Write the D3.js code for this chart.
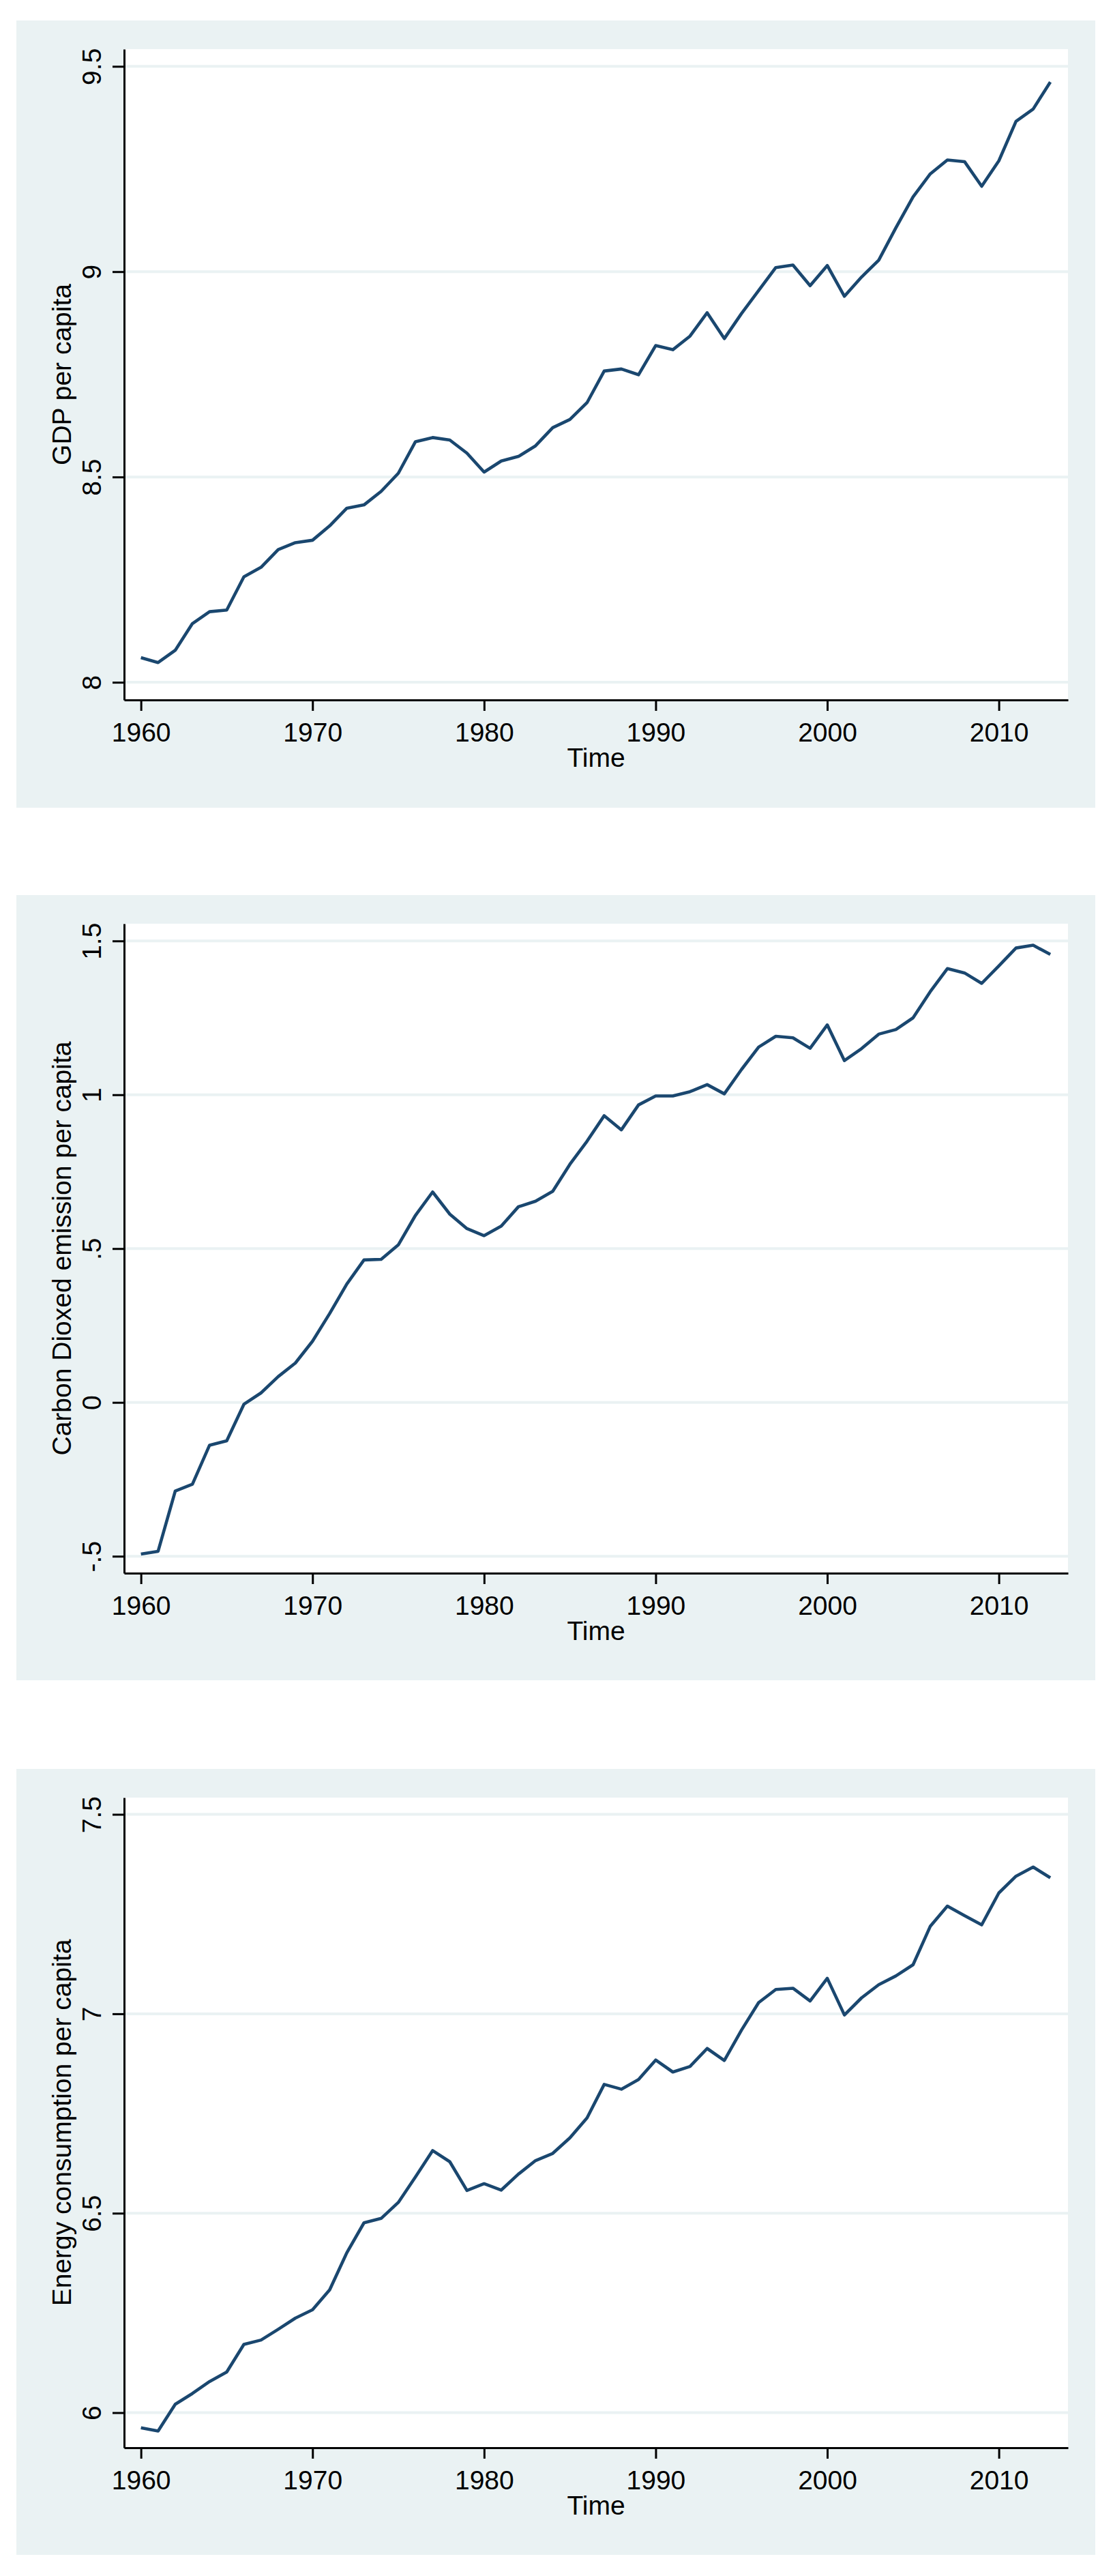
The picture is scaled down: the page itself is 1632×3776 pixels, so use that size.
<!DOCTYPE html>
<html>
<head>
<meta charset="utf-8">
<script src="https://cdn.jsdelivr.net/npm/d3@7"></script>
<style>
  html, body { margin: 0; padding: 0; background: #ffffff; }
  svg { display: block; }
  text { font-family: "Liberation Sans", Arial, Helvetica, sans-serif; fill: #000; }
</style>
</head>
<body>
<svg id="chart" width="1632" height="3776"></svg>
<script>
// ---------------- DATA ----------------
const years = [1960,1961,1962,1963,1964,1965,1966,1967,1968,1969,
               1970,1971,1972,1973,1974,1975,1976,1977,1978,1979,
               1980,1981,1982,1983,1984,1985,1986,1987,1988,1989,
               1990,1991,1992,1993,1994,1995,1996,1997,1998,1999,
               2000,2001,2002,2003,2004,2005,2006,2007,2008,2009,
               2010,2011,2012,2013];

const gdpPerCapita = [8.060,8.048,8.078,8.143,8.172,8.176,8.257,8.280,8.323,8.340,
                      8.346,8.381,8.424,8.432,8.465,8.509,8.586,8.596,8.590,8.558,
                      8.512,8.539,8.550,8.576,8.620,8.640,8.681,8.758,8.763,8.749,
                      8.820,8.810,8.843,8.900,8.837,8.898,8.954,9.010,9.016,8.966,
                      9.015,8.940,8.987,9.028,9.107,9.182,9.238,9.272,9.268,9.208,
                      9.270,9.366,9.396,9.462];

const co2PerCapita = [-0.493,-0.484,-0.288,-0.266,-0.139,-0.125,-0.006,0.031,0.084,0.128,
                      0.199,0.289,0.385,0.463,0.465,0.512,0.608,0.684,0.612,0.565,
                      0.542,0.573,0.636,0.654,0.686,0.774,0.849,0.932,0.886,0.967,
                      0.996,0.996,1.010,1.033,1.003,1.082,1.155,1.190,1.185,1.151,
                      1.227,1.111,1.150,1.197,1.212,1.250,1.335,1.410,1.396,1.362,
                      1.419,1.477,1.486,1.456];

const energyPerCapita = [5.962,5.954,6.021,6.048,6.078,6.102,6.171,6.182,6.209,6.237,
                         6.258,6.308,6.401,6.476,6.487,6.527,6.591,6.657,6.629,6.557,
                         6.574,6.558,6.598,6.632,6.650,6.689,6.739,6.823,6.811,6.835,
                         6.884,6.854,6.868,6.913,6.883,6.959,7.028,7.061,7.064,7.032,
                         7.089,6.997,7.040,7.073,7.095,7.123,7.219,7.270,7.246,7.223,
                         7.303,7.345,7.368,7.341];

const xTicks = [1960, 1970, 1980, 1990, 2000, 2010];
const xTickLabels = ["1960", "1970", "1980", "1990", "2000", "2010"];
const xTitle = "Time";

const gdpTicks = [8, 8.5, 9, 9.5];
const gdpTickLabels = ["8", "8.5", "9", "9.5"];
const co2Ticks = [-0.5, 0, 0.5, 1, 1.5];
const co2TickLabels = ["-.5", "0", ".5", "1", "1.5"];
const energyTicks = [6, 6.5, 7, 7.5];
const energyTickLabels = ["6", "6.5", "7", "7.5"];

const yTitles = ["GDP per capita", "Carbon Dioxed emission per capita", "Energy consumption per capita"];

// ---------------- LAYOUT ----------------
const panels = [
  { values: gdpPerCapita, ticks: gdpTicks, labels: gdpTickLabels, title: yTitles[0],
    bg: [24, 30, 1606, 1184], plotTop: 72, plotBottom: 1026, yDomain: [7.957, 9.542] },
  { values: co2PerCapita, ticks: co2Ticks, labels: co2TickLabels, title: yTitles[1],
    bg: [24, 1312, 1606, 2463], plotTop: 1354, plotBottom: 2306, yDomain: [-0.555, 1.556] },
  { values: energyPerCapita, ticks: energyTicks, labels: energyTickLabels, title: yTitles[2],
    bg: [24, 2593, 1606, 3745], plotTop: 2635, plotBottom: 3588, yDomain: [5.912, 7.542] }
];

const plotLeft = 182, plotRight = 1566;
const bgColor = "#eaf2f3";
const lineColor = "#1a476f";
const fontSize = 39;

const svg = d3.select("#chart");

const x = d3.scaleLinear().domain([1959.02, 2014.03]).range([plotLeft, plotRight]);

panels.forEach(p => {
  const g = svg.append("g");
  // outer background
  g.append("rect")
    .attr("x", p.bg[0]).attr("y", p.bg[1])
    .attr("width", p.bg[2] - p.bg[0]).attr("height", p.bg[3] - p.bg[1])
    .attr("fill", bgColor);
  // plot region
  g.append("rect")
    .attr("x", plotLeft).attr("y", p.plotTop)
    .attr("width", plotRight - plotLeft).attr("height", p.plotBottom - p.plotTop)
    .attr("fill", "#ffffff");

  const y = d3.scaleLinear().domain(p.yDomain).range([p.plotBottom, p.plotTop]);

  // grid lines
  g.append("g").selectAll("line")
    .data(p.ticks).join("line")
    .attr("x1", plotLeft).attr("x2", plotRight)
    .attr("y1", d => y(d)).attr("y2", d => y(d))
    .attr("stroke", bgColor).attr("stroke-width", 4);

  // data line
  const line = d3.line().x((d, i) => x(years[i])).y(d => y(d));
  g.append("path")
    .datum(p.values)
    .attr("d", line)
    .attr("fill", "none")
    .attr("stroke", lineColor)
    .attr("stroke-width", 4.6)
    .attr("stroke-linejoin", "round")
    .attr("stroke-linecap", "butt");

  // y axis
  const yAxis = d3.axisLeft(y)
    .tickValues(p.ticks)
    .tickFormat((d, i) => p.labels[i])
    .tickSize(17).tickSizeOuter(0);
  const ya = g.append("g").attr("transform", `translate(${plotLeft},0)`).call(yAxis);
  ya.select(".domain").attr("stroke", "#000").attr("stroke-width", 3);
  ya.selectAll(".tick line").attr("stroke", "#000").attr("stroke-width", 3);
  ya.selectAll(".tick text")
    .attr("x", null).attr("dy", null)
    .attr("transform", "translate(-34,0) rotate(-90)")
    .attr("text-anchor", "middle")
    .style("font-size", fontSize + "px")
    .style("font-family", '"Liberation Sans", Arial, sans-serif')
    .attr("fill", "#000");

  // x axis
  const xAxis = d3.axisBottom(x)
    .tickValues(xTicks)
    .tickFormat((d, i) => xTickLabels[i])
    .tickSize(16).tickSizeOuter(0);
  const xa = g.append("g").attr("transform", `translate(0,${p.plotBottom})`).call(xAxis);
  xa.select(".domain").attr("stroke", "#000").attr("stroke-width", 3);
  xa.selectAll(".tick line").attr("stroke", "#000").attr("stroke-width", 3);
  xa.selectAll(".tick text")
    .attr("y", 61).attr("dy", null)
    .attr("text-anchor", "middle")
    .style("font-size", fontSize + "px")
    .style("font-family", '"Liberation Sans", Arial, sans-serif')
    .attr("fill", "#000");

  // axis titles
  g.append("text")
    .attr("transform", `translate(104,${(p.plotTop + p.plotBottom) / 2}) rotate(-90)`)
    .attr("text-anchor", "middle")
    .style("font-size", fontSize + "px")
    .text(p.title);

  g.append("text")
    .attr("x", (plotLeft + plotRight) / 2)
    .attr("y", p.plotBottom + 98)
    .attr("text-anchor", "middle")
    .style("font-size", fontSize + "px")
    .text(xTitle);
});
</script>
</body>
</html>
